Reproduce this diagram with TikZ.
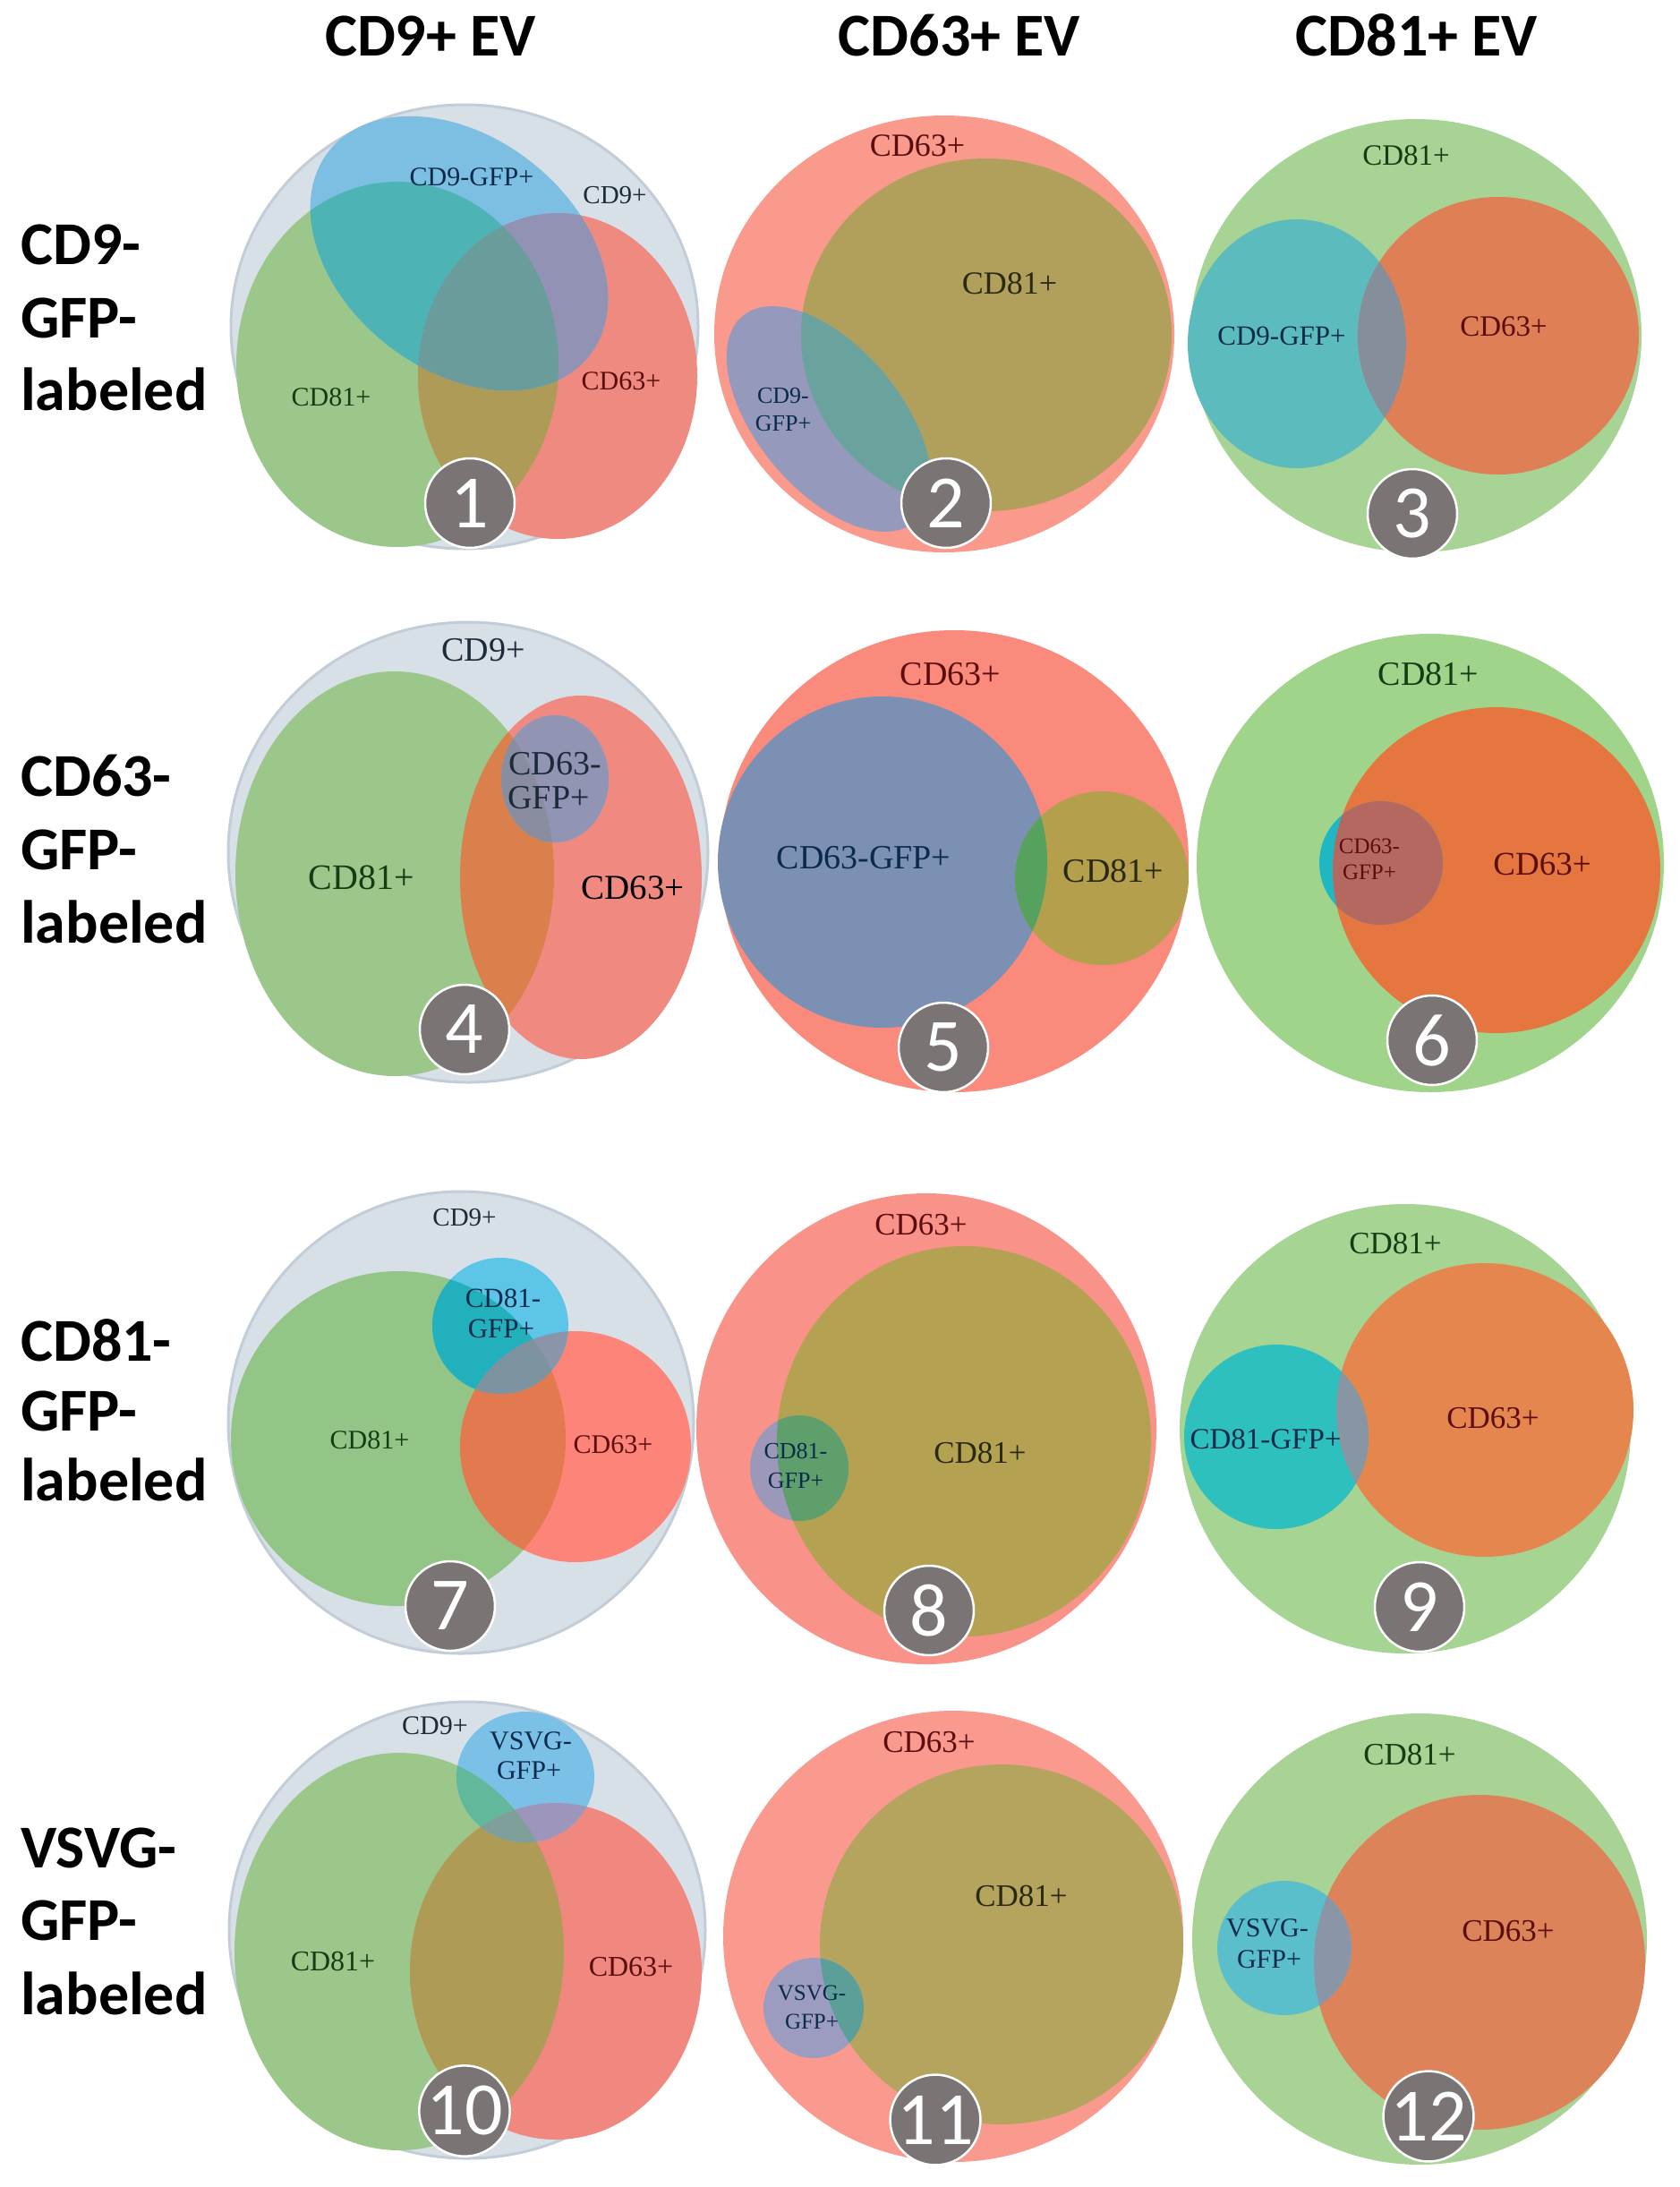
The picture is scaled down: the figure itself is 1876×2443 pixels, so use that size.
\documentclass[tikz,border=0pt]{standalone}
\usepackage{fontspec}
\setmainfont{Liberation Serif}
\newfontfamily\hfont{Carlito}
% outer CD9+ grey
\definecolor{gry}{HTML}{D8E0E7}
\definecolor{gryb}{HTML}{C3CDD8}
\definecolor{badgec}{HTML}{7A7474}
% label colours
\definecolor{tg}{HTML}{143D14}
\definecolor{tr}{HTML}{5C0D0D}
\definecolor{tb}{HTML}{0B2B4D}
\definecolor{tk}{HTML}{1C2B3A}
\definecolor{to}{HTML}{2A2A10}
% panel 1
\definecolor{p1g}{HTML}{9CC78B}\definecolor{p1r}{HTML}{EE8A80}\definecolor{p1gr}{HTML}{AD9B57}
\definecolor{p1b}{HTML}{7DBFE2}\definecolor{p1bg}{HTML}{4DB3B4}\definecolor{p1br}{HTML}{9292B4}\definecolor{p1bgr}{HTML}{6A9C9C}
% panel 2
\definecolor{p2r}{HTML}{F99A8D}\definecolor{p2o}{HTML}{B1A05B}\definecolor{p2b}{HTML}{9599BB}\definecolor{p2bo}{HTML}{6AA39E}
% panel 3
\definecolor{p3g}{HTML}{A7D494}\definecolor{p3c}{HTML}{5CBCBD}\definecolor{p3o}{HTML}{DE7F56}\definecolor{p3co}{HTML}{858F9C}
% panel 4
\definecolor{p4g}{HTML}{9CC78B}\definecolor{p4r}{HTML}{F08A80}\definecolor{p4gr}{HTML}{D9804C}
\definecolor{p4b}{HTML}{68B9E3}\definecolor{p4br}{HTML}{9294B4}\definecolor{p4bg}{HTML}{4AB5B5}\definecolor{p4bgr}{HTML}{8A8CA0}
% panel 5
\definecolor{p5r}{HTML}{FA8A7C}\definecolor{p5b}{HTML}{7B90B2}\definecolor{p5o}{HTML}{B49F4C}\definecolor{p5bo}{HTML}{55A15D}
% panel 6
\definecolor{p6g}{HTML}{A0D48A}\definecolor{p6o}{HTML}{E57640}\definecolor{p6c}{HTML}{1FB8C2}\definecolor{p6co}{HTML}{B56860}
% panel 7
\definecolor{p7g}{HTML}{93C686}\definecolor{p7r}{HTML}{FC8478}\definecolor{p7gr}{HTML}{E37A4F}
\definecolor{p7b}{HTML}{5CC5E8}\definecolor{p7bg}{HTML}{22B0BC}\definecolor{p7br}{HTML}{8A95AC}\definecolor{p7bgr}{HTML}{7D94A0}
% panel 8
\definecolor{p8r}{HTML}{F9938A}\definecolor{p8o}{HTML}{B5A152}\definecolor{p8b}{HTML}{9B98B9}\definecolor{p8bo}{HTML}{5E9F6B}
% panel 9
\definecolor{p9g}{HTML}{A6D493}\definecolor{p9o}{HTML}{E6864F}\definecolor{p9c}{HTML}{2EBFBF}\definecolor{p9co}{HTML}{8796A2}
% panel 10
\definecolor{pAg}{HTML}{9CC78B}\definecolor{pAr}{HTML}{F0887F}\definecolor{pAgr}{HTML}{AE9B55}
\definecolor{pAb}{HTML}{7BC0E6}\definecolor{pAbg}{HTML}{62B89A}\definecolor{pAbr}{HTML}{9D95BB}\definecolor{pAbgr}{HTML}{7FA09A}
% panel 11
\definecolor{pBr}{HTML}{FA998D}\definecolor{pBo}{HTML}{B4A45E}\definecolor{pBb}{HTML}{9C9CC0}\definecolor{pBbo}{HTML}{5C9F98}
% panel 12
\definecolor{pCg}{HTML}{A8D395}\definecolor{pCo}{HTML}{DC8359}\definecolor{pCc}{HTML}{5ABFCA}\definecolor{pCco}{HTML}{8A96A8}

\tikzset{
  hdr/.style={font=\hfont\bfseries\fontsize{68}{80}\selectfont, inner sep=0pt},
  rowlab/.style={font=\hfont\bfseries\fontsize{68}{80}\selectfont, inner sep=0pt, anchor=base west},
  lab/.style={font=\fontsize{#1}{#1}\selectfont, inner sep=0pt},
  badge/.style={circle, fill=badgec, draw=white, line width=2.5pt, minimum size=100pt,
    inner sep=0pt, text=white, font=\hfont\fontsize{84}{84}\selectfont},
  outergrey/.style={fill=gry, draw=gryb, line width=3pt},
}

\begin{document}
\begin{tikzpicture}[x=1pt,y=1pt]
\useasboundingbox (0,0) rectangle (1876,-2443);
\fill[white] (0,0) rectangle (1876,-2443);

% ---------- headers ----------
\node[hdr, anchor=base] (h1) at (481,-63) {CD9+ EV};
\node[hdr, anchor=base] (h2) at (1072,-63) {CD63+ EV};
\node[hdr, anchor=base] (h3) at (1583,-63) {CD81+ EV};

% ---------- row labels ----------
\node[rowlab] (r1a) at (23,-295) {CD9-};
\node[rowlab] (r1b) at (23,-377) {GFP-};
\node[rowlab] (r1c) at (23,-458) {labeled};
\node[rowlab] (r2a) at (23,-889) {CD63-};
\node[rowlab] (r2b) at (23,-971) {GFP-};
\node[rowlab] (r2c) at (23,-1053) {labeled};
\node[rowlab] (r3a) at (23,-1520) {CD81-};
\node[rowlab] (r3b) at (23,-1598) {GFP-};
\node[rowlab] (r3c) at (23,-1676) {labeled};
\node[rowlab] (r4a) at (23,-2086) {VSVG-};
\node[rowlab] (r4b) at (23,-2167) {GFP-};
\node[rowlab] (r4c) at (23,-2250) {labeled};

% =============== Panel 1 ===============
\def\Go{(444,-407) ellipse [x radius=180pt, y radius=204pt]}
\def\Ro{(623,-420) ellipse [x radius=156pt, y radius=182pt]}
\def\Bo{[rotate around={-38:(513,-283)}] (513,-283) ellipse [x radius=185pt, y radius=130pt]}
\path[outergrey] (519,-365) ellipse [x radius=261pt, y radius=248pt];
\fill[p1g] \Go;
\fill[p1r] \Ro;
\begin{scope}\clip \Go; \fill[p1gr] \Ro; \end{scope}
\fill[p1b] \Bo;
\begin{scope}\clip \Bo; \fill[p1bg] \Go; \fill[p1br] \Ro; \clip \Go; \fill[p1bgr] \Ro; \end{scope}
\node[lab=30, text=tb] (l1a) at (527,-198) {CD9-GFP+};
\node[lab=29, text=tk] (l1b) at (687,-218) {CD9+};
\node[lab=30, text=tg] (l1c) at (370,-444) {CD81+};
\node[lab=30, text=tr] (l1d) at (694,-426) {CD63+};
\node[badge] (n1) at (525,-562) {1};

% =============== Panel 2 ===============
\def\Rt{(1055,-373) ellipse [x radius=257pt, y radius=244pt]}
\def\Ot{(1102,-374) ellipse [x radius=207pt, y radius=197pt]}
\def\Bt{[rotate around={-50:(926,-468)}] (926,-468) ellipse [x radius=150pt, y radius=80pt]}
\fill[p2r] \Rt;
\fill[p2o] \Ot;
\fill[p2b] \Bt;
\begin{scope}\clip \Bt; \fill[p2bo] \Ot; \end{scope}
\node[lab=36, text=tr] (l2a) at (1025,-163) {CD63+};
\node[lab=36, text=to] (l2b) at (1128,-317) {CD81+};
\node[lab=26, text=tb] (l2c) at (875,-442) {CD9-};
\node[lab=26, text=tb] (l2d) at (875,-473) {GFP+};
\node[badge] (n2) at (1057,-562) {2};

% =============== Panel 3 ===============
\def\Gth{(1582,-375) ellipse [x radius=252pt, y radius=242pt]}
\def\Cth{(1449,-384) ellipse [x radius=122pt, y radius=139pt]}
\def\Oth{(1674,-375) ellipse [x radius=157pt, y radius=155pt]}
\fill[p3g] \Gth;
\fill[p3c] \Cth;
\fill[p3o] \Oth;
\begin{scope}\clip \Cth; \fill[p3co] \Oth; \end{scope}
\node[lab=33, text=tg] (l3a) at (1571,-174) {CD81+};
\node[lab=31, text=tb] (l3b) at (1432,-375) {CD9-GFP+};
\node[lab=33, text=tr] (l3c) at (1680,-365) {CD63+};
\node[badge] (n3) at (1578,-574) {3};

% =============== Panel 4 ===============
\def\Gf{(441,-976) ellipse [x radius=178pt, y radius=226pt]}
\def\Rf{(649,-980) ellipse [x radius=135pt, y radius=203pt]}
\def\Bf{(620,-870) ellipse [x radius=60pt, y radius=71pt]}
\path[outergrey] (523,-952) ellipse [x radius=268pt, y radius=257pt];
\fill[p4g] \Gf;
\fill[p4r] \Rf;
\begin{scope}\clip \Gf; \fill[p4gr] \Rf; \end{scope}
\fill[p4b] \Bf;
\begin{scope}\clip \Bf; \fill[p4bg] \Gf; \fill[p4br] \Rf; \clip \Gf; \fill[p4bgr] \Rf; \end{scope}
\node[lab=38, text=tk] (l4a) at (540,-726) {CD9+};
\node[lab=38, text=tk] (l4b) at (620,-853) {CD63-};
\node[lab=38, text=tk] (l4c) at (613,-891) {GFP+};
\node[lab=40, text=tg] (l4d) at (404,-980) {CD81+};
\node[lab=39, text=black] (l4e) at (707,-992) {CD63+};
\node[badge] (n4) at (519,-1150) {4};

% =============== Panel 5 ===============
\def\Rv{(1066,-962) ellipse [x radius=262pt, y radius=258pt]}
\def\Bv{(986,-963) ellipse [x radius=184pt, y radius=185pt]}
\def\Ov{(1231,-981) ellipse [x radius=97pt, y radius=97pt]}
\fill[p5r] \Rv;
\fill[p5b] \Bv;
\fill[p5o] \Ov;
\begin{scope}\clip \Bv; \fill[p5bo] \Ov; \end{scope}
\node[lab=38, text=tr] (l5a) at (1062,-753) {CD63+};
\node[lab=38, text=tb] (l5b) at (965,-958) {CD63-GFP+};
\node[lab=38, text=to] (l5c) at (1244,-973) {CD81+};
\node[badge] (n5) at (1054,-1170) {5};

% =============== Panel 6 ===============
\def\Gs{(1598,-964) ellipse [x radius=261pt, y radius=256pt]}
\def\Os{(1672,-972) ellipse [x radius=183pt, y radius=182pt]}
\def\Cs{(1543,-964) ellipse [x radius=69pt, y radius=69pt]}
\fill[p6g] \Gs;
\fill[p6o] \Os;
\fill[p6c] \Cs;
\begin{scope}\clip \Cs; \fill[p6co] \Os; \end{scope}
\node[lab=38, text=tg] (l6a) at (1596,-753) {CD81+};
\node[lab=37, text=tr] (l6b) at (1723,-965) {CD63+};
\node[lab=25, text=tr] (l6c) at (1530,-945) {CD63-};
\node[lab=25, text=tr] (l6d) at (1530,-974) {GFP+};
\node[badge] (n6) at (1600,-1162) {6};

% =============== Panel 7 ===============
\def\Gse{(445,-1607) ellipse [x radius=187pt, y radius=187pt]}
\def\Rse{(643,-1616) ellipse [x radius=129pt, y radius=129pt]}
\def\Bse{(559,-1481) ellipse [x radius=76pt, y radius=76pt]}
\path[outergrey] (515,-1589) ellipse [x radius=260pt, y radius=258pt];
\fill[p7g] \Gse;
\fill[p7r] \Rse;
\begin{scope}\clip \Gse; \fill[p7gr] \Rse; \end{scope}
\fill[p7b] \Bse;
\begin{scope}\clip \Bse; \fill[p7bg] \Gse; \fill[p7br] \Rse; \clip \Gse; \fill[p7bgr] \Rse; \end{scope}
\node[lab=29, text=tk] (l7a) at (519,-1360) {CD9+};
\node[lab=31, text=tb] (l7b) at (562,-1450) {CD81-};
\node[lab=31, text=tb] (l7c) at (560,-1484) {GFP+};
\node[lab=30, text=tg] (l7d) at (413,-1609) {CD81+};
\node[lab=30, text=tr] (l7e) at (685,-1614) {CD63+};
\node[badge] (n7) at (503,-1794) {7};

% =============== Panel 8 ===============
\def\Re{(1035,-1596) ellipse [x radius=257pt, y radius=263pt]}
\def\Oe{(1077,-1610) ellipse [x radius=209pt, y radius=218pt]}
\def\Be{(893,-1640) ellipse [x radius=55pt, y radius=59pt]}
\fill[p8r] \Re;
\fill[p8o] \Oe;
\fill[p8b] \Be;
\begin{scope}\clip \Be; \fill[p8bo] \Oe; \end{scope}
\node[lab=35, text=tr] (l8a) at (1029,-1368) {CD63+};
\node[lab=35, text=to] (l8b) at (1095,-1623) {CD81+};
\node[lab=26, text=tb] (l8c) at (889,-1621) {CD81-};
\node[lab=26, text=tb] (l8d) at (889,-1654) {GFP+};
\node[badge] (n8) at (1038,-1799) {8};

% =============== Panel 9 ===============
\def\Gn{(1570,-1596) ellipse [x radius=252pt, y radius=251pt]}
\def\On{(1659,-1575) ellipse [x radius=166pt, y radius=164pt]}
\def\Cn{(1426,-1605) ellipse [x radius=103pt, y radius=103pt]}
\fill[p9g] \Gn;
\fill[p9o] \On;
\fill[p9c] \Cn;
\begin{scope}\clip \Cn; \fill[p9co] \On; \end{scope}
\node[lab=35, text=tg] (l9a) at (1559,-1389) {CD81+};
\node[lab=35, text=tr] (l9b) at (1668,-1584) {CD63+};
\node[lab=33, text=tb] (l9c) at (1414,-1608) {CD81-GFP+};
\node[badge] (n9) at (1586,-1795) {9};

% =============== Panel 10 ===============
\def\Gte{(446,-2180) ellipse [x radius=184pt, y radius=222pt]}
\def\Rte{(621,-2202) ellipse [x radius=163pt, y radius=188pt]}
\def\Bte{(587,-1985) ellipse [x radius=77pt, y radius=73pt]}
\path[outergrey] (522,-2156) ellipse [x radius=266pt, y radius=255pt];
\fill[pAg] \Gte;
\fill[pAr] \Rte;
\begin{scope}\clip \Gte; \fill[pAgr] \Rte; \end{scope}
\fill[pAb] \Bte;
\begin{scope}\clip \Bte; \fill[pAbg] \Gte; \fill[pAbr] \Rte; \clip \Gte; \fill[pAbgr] \Rte; \end{scope}
\node[lab=30, text=tk] (lAa) at (486,-1928) {CD9+};
\node[lab=30, text=tb] (lAb) at (593,-1945) {VSVG-};
\node[lab=30, text=tb] (lAc) at (591,-1978) {GFP+};
\node[lab=32, text=tg] (lAd) at (372,-2191) {CD81+};
\node[lab=32, text=tr] (lAe) at (705,-2197) {CD63+};
\node[badge] (n10) at (519,-2358) {10};

% =============== Panel 11 ===============
\def\Rel{(1065,-2163) ellipse [x radius=257pt, y radius=252pt]}
\def\Oel{(1119,-2172) ellipse [x radius=203pt, y radius=201pt]}
\def\Bel{(909,-2243) ellipse [x radius=56pt, y radius=56pt]}
\fill[pBr] \Rel;
\fill[pBo] \Oel;
\fill[pBb] \Bel;
\begin{scope}\clip \Bel; \fill[pBbo] \Oel; \end{scope}
\node[lab=35, text=tr] (lBa) at (1038,-1946) {CD63+};
\node[lab=35, text=to] (lBb) at (1141,-2118) {CD81+};
\node[lab=25, text=tb] (lBc) at (907,-2226) {VSVG-};
\node[lab=25, text=tb] (lBd) at (907,-2258) {GFP+};
\node[badge] (n11) at (1045,-2368) {11};

% =============== Panel 12 ===============
\def\Gtw{(1586,-2166) ellipse [x radius=254pt, y radius=252pt]}
\def\Otw{(1653,-2192) ellipse [x radius=185pt, y radius=187pt]}
\def\Ctw{(1435,-2176) ellipse [x radius=75pt, y radius=75pt]}
\fill[pCg] \Gtw;
\fill[pCo] \Otw;
\fill[pCc] \Ctw;
\begin{scope}\clip \Ctw; \fill[pCco] \Otw; \end{scope}
\node[lab=35, text=tg] (lCa) at (1575,-1960) {CD81+};
\node[lab=35, text=tr] (lCb) at (1685,-2157) {CD63+};
\node[lab=30, text=tb] (lCc) at (1416,-2154) {VSVG-};
\node[lab=30, text=tb] (lCd) at (1418,-2189) {GFP+};
\node[badge] (n12) at (1596,-2364) {12};
\end{tikzpicture}
\end{document}
